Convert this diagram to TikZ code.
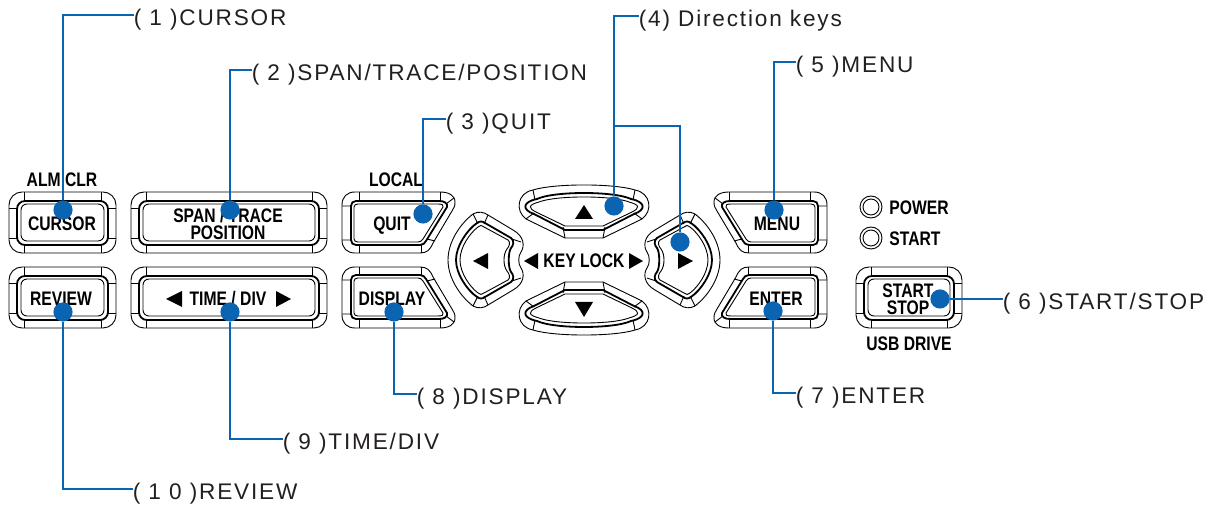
\documentclass[tikz,border=0pt]{standalone}
\usepackage{fontspec}
\usepackage{tikz}
\newfontfamily\keyfont[FakeStretch=0.8]{Liberation Sans}
\newfontfamily\labelfont[LetterSpace=8]{Liberation Sans}
\definecolor{leaderblue}{HTML}{0A64B2}
\definecolor{labelgray}{HTML}{231F20}
\tikzset{
  keyline/.style={line width=0.45pt,black},
  keythick/.style={line width=0.9pt,black},
  keytext/.style={font=\keyfont\bfseries\fontsize{9.8}{10}\selectfont,inner sep=0pt,text=black,text height=7.2pt,text depth=0pt},
  leadtext/.style={font=\labelfont\fontsize{11.3}{12}\selectfont,inner sep=0pt,anchor=west,text=labelgray,text height=11pt,text depth=0pt},
  bluedot/.style={circle,fill=leaderblue,inner sep=0pt,minimum size=9.6pt},
  leader/.style={line width=1.2pt,leaderblue}
}
\newcommand{\rectkey}[3]{
\begin{scope}[shift={(#1,#2)}]
\draw[keyline,rounded corners=6.5pt] (0,0) rectangle (#3,61);
\draw[keythick,rounded corners=4pt] (8,9) rectangle (#3-8,53);
\draw[keyline,rounded corners=3pt] (12,12) rectangle (#3-12,49);
\draw[keyline] (15,0) -- (15,9) (#3-15,0) -- (#3-15,9) (15,53) -- (15,61) (#3-15,53) -- (#3-15,61);
\draw[keyline] (0,16) -- (8,16) (0,46) -- (8,46) (#3-8,16) -- (#3,16) (#3-8,46) -- (#3,46);
\end{scope}}
\newcommand{\slantkey}[1]{
\begin{scope}[#1]
\draw[keyline] (13,0) -- (98,0) .. controls (106,0) and (113,3) .. (113,10) .. controls (113,14) and (112,16) .. (110,19) -- (91,51) .. controls (88,58) and (85,61) .. (78,61) -- (13,61) .. controls (5,61) and (0,56) .. (0,48) -- (0,13) .. controls (0,5) and (5,0) .. (13,0) -- cycle;
\draw[keythick] (14,9) -- (97,9) .. controls (102,9) and (106,11) .. (105,15) -- (84,49) .. controls (83,51) and (81,53) .. (78,53) -- (14,53) .. controls (11,53) and (9,51) .. (9,48) -- (9,14) .. controls (9,11) and (11,9) .. (14,9) -- cycle;
\draw[keyline] (16,12) -- (96,12) .. controls (100,12) and (102,13) .. (101,15) -- (81,47) .. controls (80,49) and (78,50) .. (76,50) -- (16,50) .. controls (14,50) and (12,49) .. (12,47) -- (12,15) .. controls (12,13) and (14,12) .. (16,12) -- cycle;
\draw[keyline] (17,0) -- (17,9) (98,0) -- (98,9) (17,53) -- (17,61) (79,53) -- (79,61);
\draw[keyline] (0,14) -- (9,14) (0,48) -- (9,48) (104,12) -- (112,6) (85,47) -- (93,49);
\end{scope}}
\newcommand{\updirkey}[1]{
\begin{scope}[#1]
\draw[keyline] (-19,-22) -- (-58,-41) .. controls (-69,-49) and (-67,-67) .. (-51,-70) .. controls (-30,-76.7) and (30,-76.7) .. (51,-70) .. controls (67,-67) and (69,-49) .. (58,-41) -- (19,-22) -- cycle;
\draw[keythick] (-19,-30) -- (-50,-46) .. controls (-62,-50) and (-62,-58) .. (-47,-61) .. controls (-30,-69) and (30,-69) .. (47,-61) .. controls (62,-58) and (62,-50) .. (50,-46) -- (19,-30) -- cycle;
\draw[keyline] (-19,-34) -- (-48,-48) .. controls (-56,-52) and (-56,-55) .. (-45,-58) .. controls (-28,-64.7) and (28,-64.7) .. (45,-58) .. controls (56,-55) and (56,-52) .. (48,-48) -- (19,-34) -- cycle;
\draw[keyline] (-19,-22) -- (-21,-33) (19,-22) -- (21,-33) (-51,-70) -- (-49,-60) (51,-70) -- (49,-60) (-58,-41) -- (-50,-47) (58,-41) -- (50,-47);
\end{scope}}
\newcommand{\sidedirkey}[1]{
\begin{scope}[#1]
\draw[keyline] (-136,0) .. controls (-136,-18) and (-124,-36) .. (-111,-46) .. controls (-106,-49) and (-100,-48) .. (-96,-45) -- (-71,-30) .. controls (-60,-24) and (-59,-14) .. (-63,-8) .. controls (-66,-4) and (-66,4) .. (-63,8) .. controls (-59,14) and (-60,24) .. (-71,30) -- (-96,45) .. controls (-100,48) and (-106,49) .. (-111,46) .. controls (-124,36) and (-136,18) .. (-136,0) -- cycle;
\draw[keythick] (-128,0) .. controls (-128,-14) and (-117,-30) .. (-107,-37) .. controls (-104,-39) and (-102,-39) .. (-99,-37) -- (-73,-22) .. controls (-69,-19) and (-71,-14) .. (-73,-12) .. controls (-76,-8) and (-76,8) .. (-73,12) .. controls (-71,14) and (-69,19) .. (-73,22) -- (-99,37) .. controls (-102,39) and (-104,39) .. (-107,37) .. controls (-117,30) and (-128,14) .. (-128,0) -- cycle;
\draw[keyline] (-124,0) .. controls (-124,-13) and (-114,-27) .. (-106,-33) .. controls (-104,-35) and (-102,-35) .. (-100,-33) -- (-76,-20) .. controls (-73,-18) and (-75,-13) .. (-77,-11) .. controls (-81,-6) and (-81,6) .. (-77,11) .. controls (-75,13) and (-73,18) .. (-76,20) -- (-100,33) .. controls (-102,35) and (-104,35) .. (-106,33) .. controls (-114,27) and (-124,13) .. (-124,0) -- cycle;
\draw[keyline] (-111,-46) -- (-106,-36) (-96,-45) -- (-100,-36) (-63,-18) -- (-72,-21) (-111,46) -- (-106,36) (-96,45) -- (-100,36) (-63,18) -- (-72,21);
\end{scope}}
\begin{document}
\begin{tikzpicture}[x=0.5pt,y=-0.5pt]
\useasboundingbox (0,0) rectangle (1223,507);
\rectkey{9}{192}{107} \rectkey{131}{192}{196}
\rectkey{9}{267}{107} \rectkey{131}{267}{196}
\rectkey{856}{267}{106}
\slantkey{shift={(342,192)}} \slantkey{shift={(342,328)},yscale=-1}
\slantkey{shift={(827,192)},xscale=-1} \slantkey{shift={(827,328)},xscale=-1,yscale=-1}
\updirkey{shift={(584,260)}} \updirkey{shift={(584,260)},yscale=-1}
\sidedirkey{shift={(584,260)}} \sidedirkey{shift={(584,260)},xscale=-1}
\fill (166,299) -- (182,291) -- (182,307) -- cycle; \fill (291,299) -- (276,291) -- (276,307) -- cycle;
\fill (473,261) -- (488,253) -- (488,269) -- cycle; \fill (693,261) -- (678,253) -- (678,269) -- cycle;
\fill (524,261) -- (538,253) -- (538,269) -- cycle; \fill (643,261) -- (629,253) -- (629,269) -- cycle;
\fill (584,205) -- (575,219) -- (593,219) -- cycle; \fill (584,317) -- (575,302) -- (593,302) -- cycle;
\draw[keyline] (871,207) circle (11); \draw[keyline] (871,207) circle (8);
\draw[keyline] (871,238) circle (11); \draw[keyline] (871,238) circle (8);
\node[keytext] (almclr) at (62,179) {ALM CLR}; \node[keytext] (local) at (396,179) {LOCAL};
\node[keytext] (cursor) at (62,223) {CURSOR}; \node[keytext] (span) at (228,215) {SPAN / TRACE};
\node[keytext] (position) at (228,232) {POSITION}; \node[keytext] (quit) at (392,223) {QUIT};
\node[keytext] (review) at (61,298) {REVIEW}; \node[keytext] (timediv) at (228,298) {TIME / DIV};
\node[keytext] (display) at (392,298) {DISPLAY}; \node[keytext] (keylock) at (584,260) {KEY LOCK};
\node[keytext] (menu) at (777,223) {MENU}; \node[keytext] (enter) at (776,298) {ENTER};
\node[keytext,anchor=west] (power) at (889,207) {POWER}; \node[keytext,anchor=west] (startled) at (889,238) {START};
\node[keytext] (startkey) at (908,290) {START}; \node[keytext] (stopkey) at (908,307) {STOP};
\node[keytext] (usb) at (909,343) {USB DRIVE};
\node[leadtext] (l1) at (133.5,15) {( 1 )CURSOR};
\node[leadtext] (l2) at (251.5,70) {( 2 )SPAN/TRACE/POSITION};
\node[leadtext] (l3) at (445.5,119) {( 3 )QUIT};
\node[leadtext] (l4) at (638.5,16) {(4) Direction keys};
\node[leadtext] (l5) at (795.5,62) {( 5 )MENU};
\node[leadtext] (l6) at (1002.5,299) {( 6 )START/STOP};
\node[leadtext] (l7) at (795.5,393) {( 7 )ENTER};
\node[leadtext] (l8) at (416.5,394) {( 8 )DISPLAY};
\node[leadtext] (l9) at (282.5,439) {( 9 )TIME/DIV};
\node[leadtext] (l10) at (132.5,489) {( 1 0 )REVIEW};
\node[bluedot] (d1) at (63,210) {}; \node[bluedot] (d2) at (230,210) {};
\node[bluedot] (d3) at (423,214) {}; \node[bluedot] (d4a) at (614,206) {};
\node[bluedot] (d4b) at (680,242) {}; \node[bluedot] (d5) at (774,210) {};
\node[bluedot] (d6) at (940,299) {}; \node[bluedot] (d7) at (773,311) {};
\node[bluedot] (d8) at (394,312) {}; \node[bluedot] (d9) at (230,312) {};
\node[bluedot] (d10) at (63,312) {};
\coordinate (j4) at (614,126);
\draw[leader] (d1) |- (l1);
\draw[leader] (d2) |- (l2);
\draw[leader] (d3) |- (l3);
\draw[leader] (d4a) |- (l4);
\draw[leader] (d4b) |- (j4);
\draw[leader] (d5) |- (l5);
\draw[leader] (d6) -- (l6);
\draw[leader] (d7) |- (l7);
\draw[leader] (d8) |- (l8);
\draw[leader] (d9) |- (l9);
\draw[leader] (d10) |- (l10);
\end{tikzpicture}
\end{document}
